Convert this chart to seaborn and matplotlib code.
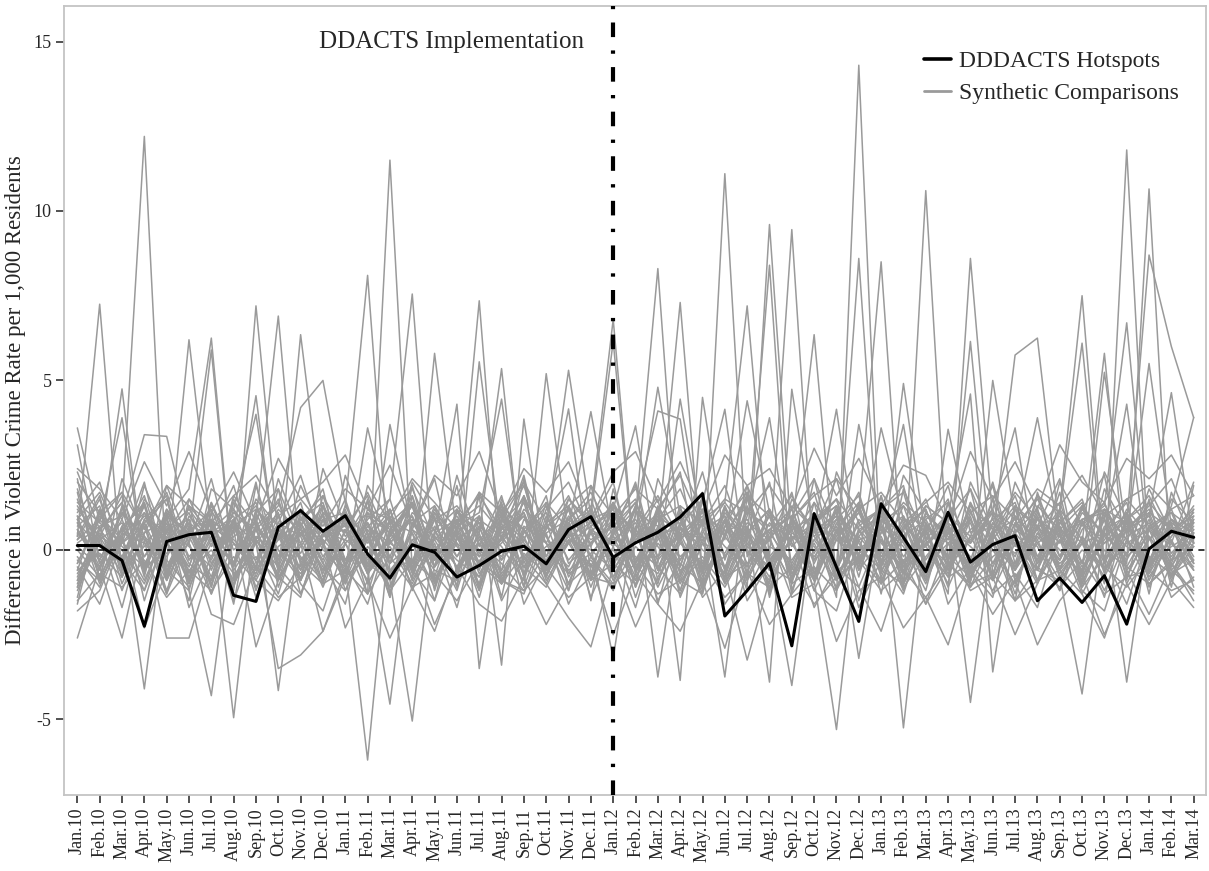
# Synthetic control plot: DDACTS hotspots vs synthetic comparison units
import pandas as pd
import matplotlib
matplotlib.use('Agg')
import matplotlib.pyplot as plt
import seaborn as sns
from matplotlib.lines import Line2D

# Month labels (Jan.10 .. Mar.14)
months = ['Jan.10', 'Feb.10', 'Mar.10', 'Apr.10', 'May.10', 'Jun.10', 'Jul.10', 'Aug.10', 'Sep.10', 'Oct.10', 'Nov.10', 'Dec.10',
          'Jan.11', 'Feb.11', 'Mar.11', 'Apr.11', 'May.11', 'Jun.11', 'Jul.11', 'Aug.11', 'Sep.11', 'Oct.11', 'Nov.11', 'Dec.11',
          'Jan.12', 'Feb.12', 'Mar.12', 'Apr.12', 'May.12', 'Jun.12', 'Jul.12', 'Aug.12', 'Sep.12', 'Oct.12', 'Nov.12', 'Dec.12',
          'Jan.13', 'Feb.13', 'Mar.13', 'Apr.13', 'May.13', 'Jun.13', 'Jul.13', 'Aug.13', 'Sep.13', 'Oct.13', 'Nov.13', 'Dec.13',
          'Jan.14', 'Feb.14', 'Mar.14']
implementation_month = 'Jan.12'

# DDACTS hotspots (black line)
hotspots = [0.13, 0.13, -0.31, -2.25, 0.25, 0.45, 0.52, -1.34, -1.52, 0.67, 1.16, 0.55,
            1.01, -0.12, -0.83, 0.15, -0.07, -0.80, -0.46, -0.04, 0.11, -0.41, 0.60, 0.98,
            -0.22, 0.21, 0.52, 0.97, 1.66, -1.95, -1.20, -0.39, -2.83, 1.07, -0.51, -2.11,
            1.36, 0.37, -0.64, 1.11, -0.36, 0.16, 0.42, -1.50, -0.83, -1.55, -0.76, -2.19,
            0.03, 0.55, 0.37]

# Synthetic comparisons: volatile units (carry the big spikes and dips)
volatile_units = [
    [0.8, -0.5, 1.2, 12.2, -0.9, 0.6, -1.1, 1.4, 0.3, -0.7, 1.0, -0.4,
     0.9, -1.3, 11.5, -0.6, 1.1, -0.2, 0.7, -1.0, 0.5, 1.3, -0.8, 0.2,
     1.1, -0.6, 0.4, -1.2, 0.9, 0.1, -0.5, 1.2, -0.9, 0.6, -1.4, 14.3,
     -0.7, 1.0, -0.3, 0.8, -4.5, 0.5, -0.6, 1.1, -0.2, 0.9, -1.0, 11.8,
     -0.5, 0.7, -0.3],
    [0.4, 7.25, -0.8, 0.9, 1.6, -1.2, -4.3, 0.7, -0.5, 1.8, 0.2, -0.9,
     1.3, 8.1, -0.7, 0.5, -1.5, 1.2, 0.3, -0.6, 2.1, -0.4, 0.8, -1.1,
     0.6, 1.9, -0.9, 0.4, -1.3, 11.1, -0.2, 1.0, -0.8, 0.7, 1.5, -0.6,
     0.3, -1.2, 10.6, -0.5, 1.4, -0.9, 0.8, -0.3, 1.7, -1.1, 0.5, -0.4,
     10.65, -0.8, 0.9],
    [1.5, -0.4, 0.6, -4.1, 1.1, -0.7, 0.9, -1.2, 7.2, 0.4, -0.9, 1.6,
     -0.3, 0.8, -1.4, 1.9, -0.5, 0.3, 7.35, -1.0, 0.6, -0.2, 1.2, -0.8,
     0.5, 1.4, -3.75, 0.7, -0.6, 1.3, -1.1, 9.6, 0.2, -0.9, 0.8, -0.4,
     1.6, -0.7, 0.3, -1.3, 8.6, 0.9, -0.5, 1.2, -0.8, -4.25, 0.6, 1.0,
     -0.9, 0.4, 1.3],
    [-0.6, 1.2, -1.0, 0.5, 1.7, -0.3, 0.8, -4.95, 0.9, 6.9, -0.5, 1.1,
     -1.2, 0.4, 1.5, 7.55, -0.9, 0.6, -0.4, 1.3, -1.1, 0.7, 0.2, -0.8,
     1.4, -0.3, 0.9, -1.2, 0.5, -3.75, 1.6, -0.2, 9.45, -0.7, 0.4, 1.1,
     8.5, -1.0, 0.7, 0.2, -0.6, 1.5, -0.9, 0.3, 1.2, 7.5, -0.4, 0.8,
     -1.1, 0.6, 0.1],
    [2.1, -0.9, 0.7, 1.3, -0.4, 6.2, 0.5, -1.1, 1.0, -4.15, 0.8, -0.3,
     1.2, -0.7, 0.4, 1.6, -1.2, 0.9, -0.5, 0.3, 1.4, -0.8, 0.6, 1.1,
     -0.4, 1.0, 8.3, -0.8, 1.5, -0.2, 0.6, -1.3, 0.9, 1.7, -0.5, 8.6,
     -1.0, 0.7, 1.2, -0.6, 0.4, 1.9, -0.9, 0.5, -0.3, 1.3, -0.7, 0.8,
     8.7, 6.0, 3.9],
    [-1.1, 0.6, 1.4, -0.5, 0.9, 1.8, 6.25, -0.8, 0.3, 1.1, -1.3, 0.5,
     0.7, -0.4, 1.2, -0.9, 5.8, 0.4, -1.0, 1.5, 0.2, -0.6, 1.3, -0.2,
     0.9, -1.4, 0.5, 7.3, -0.7, 1.1, 0.3, 8.4, -1.2, 0.6, 1.0, -0.5,
     1.4, -5.25, 0.8, -0.3, 1.2, -0.9, 0.5, 1.6, -0.6, 0.2, 5.8, -0.8,
     0.6, 1.1, -0.4],
    [0.3, 1.5, -0.6, 0.8, -1.2, 0.5, 1.2, -0.4, 0.9, -0.8, 6.35, 1.0,
     -0.5, -6.2, 0.6, 1.3, -0.3, 0.8, -1.1, 0.4, 1.6, -0.7, 0.2, 1.2,
     6.8, -0.6, 1.1, -0.9, 0.5, 1.4, 7.2, -0.3, -4.0, 0.9, -0.5, 1.3,
     -0.8, 0.6, 1.5, -0.4, 6.15, -0.7, 1.0, 0.3, -1.2, 0.8, 1.3, 6.7,
     -0.3, 0.9, 0.5],
    [1.0, -0.8, 0.5, 1.6, -0.5, 0.2, -1.3, 0.9, 1.4, -0.6, 0.7, -1.0,
     1.1, 0.3, -0.9, -5.05, 0.6, 1.2, -0.4, 0.8, -1.1, 5.2, 0.4, -0.7,
     1.3, 0.5, -1.0, 1.2, 0.2, -0.8, 1.7, -0.3, 0.6, 6.35, -0.9, 0.4,
     1.1, -0.5, 0.9, 1.4, -0.8, 0.3, 5.75, 6.25, 0.5, -0.6, 1.0, -3.9,
     0.7, -0.4, 1.2],
    [-0.4, 0.9, 1.7, -0.7, 1.1, 0.4, 5.9, -0.9, 0.6, 1.3, 4.2, 5.0,
     1.4, -0.6, -4.55, 0.8, -0.2, 1.1, 0.5, 5.35, -0.8, 0.6, 5.3, 1.0,
     6.15, -0.7, 0.9, 1.3, -1.1, 0.4, 1.6, -0.5, 0.8, -0.9, -5.3, 0.7,
     1.2, -0.4, 0.6, 1.5, -0.9, 0.8, 0.2, -1.0, 1.1, 6.1, -0.6, 0.9,
     1.4, -0.8, 0.5],
    [0.6, -0.3, 1.1, 0.4, -0.9, 1.3, -0.6, 0.8, 0.2, -3.5, -3.1, -2.4,
     -0.8, 1.2, 0.5, -0.4, 1.0, -1.1, 5.55, 0.3, -0.7, 1.4, 0.6, -0.5,
     0.9, 1.5, -0.6, 0.3, 1.2, -0.9, 0.7, -3.9, 4.74, 0.5, 1.1, -3.2,
     0.8, 1.3, -0.5, 0.6, -1.0, 5.0, 0.9, -0.4, 1.2, -0.7, 5.24, 0.4,
     5.5, 0.7, -0.6],
    [1.3, 0.2, 4.75, -0.6, 0.8, -1.0, 1.1, 0.5, 4.55, -0.7, 0.9, 1.4,
     -0.5, 0.7, 1.2, -0.9, 0.4, 4.3, -3.5, 1.0, 0.6, -0.8, 1.3, 0.1,
     -3.2, 1.1, 0.7, -0.5, 1.4, 4.15, -0.8, 0.6, 1.2, -0.4, 0.9, 1.6,
     -0.6, 4.91, 0.3, 1.1, -0.7, 0.5, 1.3, -0.9, 0.8, 1.5, -0.3, 0.6,
     1.0, 4.64, 0.2],
    [-0.9, 0.7, 1.0, 3.4, 3.35, 0.6, -0.8, 1.2, 0.3, 1.5, -0.4, 0.9,
     1.1, -0.7, 0.5, 1.3, -0.3, 0.8, 1.6, -3.4, 3.86, -0.6, 0.7, 4.08,
     0.4, -0.9, 1.2, -3.85, 4.5, 0.3, 4.4, 1.1, -0.6, 0.8, 1.3, -0.2,
     3.6, 0.9, -0.8, 1.0, 4.6, -3.6, 0.7, 3.9, 0.4, -0.9, 1.2, 0.8,
     -0.5, 1.3, 3.91],
]

# Synthetic comparisons: moderate units
moderate_units = [
    [3.6, 0.8, 3.9, -0.5, 1.2, 0.4, -0.9, 1.6, 0.7, -0.3, 1.9, 0.5,
     -0.6, 3.6, 0.9, -0.4, 1.3, 0.2, -1.2, 0.8, 1.5, -0.5, 0.6, 1.2,
     -0.8, 0.5, 4.8, 1.0, -0.7, 0.9, 1.7, -0.4, 0.3, 1.4, -0.9, 3.7,
     0.6, -0.5, 1.3, 0.8, -1.1, 0.4, 1.6, -0.2, 0.9, -0.7, 1.1, 0.3,
     -0.4, 1.5, 0.8],
    [3.1, -0.4, 0.6, 1.4, -0.8, 1.0, 0.3, -1.1, 1.2, 0.5, -0.6, 1.3,
     0.2, -0.9, 3.7, 0.6, -0.5, 1.1, 0.8, -0.3, 1.5, 0.4, -1.0, 0.7,
     1.2, 3.66, -0.4, 4.45, 0.6, -0.8, 1.0, 3.9, -0.5, 0.8, 1.3, -0.6,
     0.9, 0.2, -0.9, 3.56, 0.5, 1.2, 3.6, -0.6, 0.8, 1.4, -0.3, 0.7,
     1.1, -0.5, 0.6],
    [-1.6, 1.1, -0.3, 0.8, 1.5, -0.9, 0.6, 1.2, 4.0, -0.5, 0.9, 0.2,
     1.0, -0.6, 0.4, 1.3, -1.0, 0.7, 1.1, 4.45, -0.4, 0.8, 4.16, -0.7,
     0.5, 1.2, 4.1, 3.86, -0.6, 0.9, 0.3, -1.0, 1.3, 0.6, 4.15, -0.4,
     0.8, 3.7, -0.5, 1.0, 0.4, -0.8, 1.2, 0.7, -0.3, 1.1, 0.5, 4.3,
     -0.7, 0.9, 0.2],
    [-2.6, -0.5, -2.6, 0.3, -2.6, -2.6, -0.4, 0.6, -2.86, -0.9, 0.2, -2.4,
     -0.6, 0.4, -1.2, -0.3, -2.2, -0.7, 0.5, -1.5, -0.2, -1.0, -2.0, -2.86,
     -0.5, -2.27, -0.8, 0.3, -1.4, -0.6, -3.25, -0.9, 0.4, -1.7, -0.5, -1.1,
     -2.4, -0.3, -1.6, 0.2, -1.2, -0.8, -2.5, -1.0, 0.3, -1.3, -2.6, -0.6,
     -1.9, -0.4, -1.5],
    [-1.8, -1.2, 0.4, -2.3, -0.6, 0.2, -1.9, -2.2, -0.5, -1.4, -0.8, 0.3,
     -2.3, -0.9, -2.6, -1.1, -2.4, -0.5, -1.6, -2.1, -0.8, -2.2, -1.0, -0.4,
     -2.5, -0.7, -1.6, -2.4, -0.9, -2.9, -0.6, -2.2, -1.3, -0.5, -2.7, -1.2,
     -0.8, -2.3, -1.4, -2.8, -0.6, -1.9, -0.9, -2.8, -1.5, -0.7, -2.5, -1.0,
     -2.2, -0.9, -1.7],
    [2.4, 1.8, 0.9, 2.6, 1.3, 2.9, 1.1, 2.3, 0.8, 2.7, 1.5, 2.0,
     2.8, 1.2, 2.5, 0.7, 2.2, 1.6, 2.9, 1.0, 2.4, 1.7, 2.6, 0.9,
     2.3, 2.9, 1.4, 2.6, 1.1, 2.8, 1.9, 2.4, 1.2, 3.0, 1.6, 2.7,
     1.3, 2.5, 2.2, 0.8, 2.9, 1.5, 2.6, 1.2, 3.1, 2.0, 1.4, 2.7,
     2.1, 2.8, 1.6],
]

# Synthetic comparisons: wider band units
wide_units = [
    [1.7, -0.9, 2.1, 0.4, -1.3, 1.5, 0.8, -1.6, 1.9, -0.2, 1.2, -1.0,
     2.2, 0.5, -1.4, 1.6, -0.3, 1.9, -1.2, 0.9, 2.0, -0.8, 1.3, -1.5,
     1.8, -0.4, 1.1, 2.3, -1.1, 0.7, 1.9, -1.4, 1.0, 2.1, -0.6, 1.4,
     -1.3, 1.8, 0.3, -1.0, 2.0, 0.6, -1.5, 1.7, -0.2, 1.2, 2.2, -0.9,
     1.5, -1.1, 1.9],
    [-1.4, 1.2, -0.6, 1.9, 0.3, -1.5, 1.4, -0.4, 2.0, -1.1, 0.7, 1.8,
     -0.9, 1.5, -1.3, 0.6, 2.1, -0.7, 1.0, -1.4, 1.6, 0.2, -1.2, 1.9,
     -0.5, 1.3, -1.6, 0.8, 1.7, -1.0, 0.4, 2.0, -1.3, 0.9, 1.5, -0.8,
     1.6, -1.2, 0.5, 1.9, -0.6, -1.4, 1.3, 0.7, 2.1, -1.0, 0.6, 1.4,
     -1.3, 1.7, 0.2],
    [2.3, 0.6, 1.4, -0.8, 1.9, 0.2, 2.1, -0.5, 1.1, 1.8, -0.9, 2.4,
     0.7, 1.6, -0.4, 2.0, 0.9, -1.1, 1.7, 0.3, 2.2, -0.6, 1.5, 0.8,
     2.0, -0.7, 1.2, 0.4, 2.3, -0.3, 1.6, 1.0, -0.9, 2.1, 0.5, 1.7,
     -0.5, 2.2, 1.1, 0.3, 1.8, -0.8, 2.0, 0.6, 1.4, -0.4, 2.3, 0.9,
     1.6, 0.2, 2.0],
    [-0.5, -1.6, 0.3, -1.2, 1.0, -1.7, -0.2, 0.8, -1.4, 0.5, -1.0, -1.8,
     0.2, -1.3, 0.9, -0.6, -1.5, 0.4, -1.1, 1.1, -1.6, -0.3, 0.7, -1.4,
     0.1, -1.7, 0.6, -0.9, -1.3, 0.9, -1.5, -0.4, 0.8, -1.2, -1.8, 0.3,
     -1.0, 0.6, -1.6, -0.5, 1.0, -1.3, -0.7, -1.7, 0.5, -1.1, -0.2, -1.6,
     0.4, -1.4, -0.8],
    [1.1, 2.0, -0.3, 1.5, 0.6, -0.9, 1.8, 1.2, -0.6, 2.1, 0.4, 1.3,
     -1.0, 1.9, 0.8, 1.4, -0.5, 2.2, 0.1, 1.6, -0.8, 1.2, 2.0, 0.5,
     1.4, -1.1, 2.1, 0.7, 1.5, -0.6, 1.9, 0.3, 1.7, -0.9, 2.3, 0.8,
     1.2, 1.9, -0.7, 1.4, 0.2, 2.0, -0.4, 1.6, 1.1, -0.8, 1.8, 0.6,
     1.3, 2.1, 0.4],
    [0.0, -0.8, 1.3, -1.5, 0.6, 0.9, -1.1, 1.5, 0.2, -1.3, 0.8, -0.4,
     -1.6, 1.1, -0.2, 1.4, -1.0, 0.5, -1.4, 0.9, 0.3, 1.6, -1.2, 0.6,
     -0.9, 0.4, 1.5, -1.4, 0.2, -0.7, 1.3, -1.2, 0.9, -0.1, 1.2, -1.5,
     0.7, 0.1, -1.2, 1.4, -0.9, 0.6, -1.3, 1.0, -0.5, 0.3, -1.4, 1.1,
     -0.6, 0.8, -1.1],
    [0.9, 1.7, 0.2, 2.0, -0.7, 1.3, 0.5, 1.9, -0.4, 0.8, 2.2, 0.1,
     1.5, -0.5, 1.1, 1.8, 0.3, -0.8, 1.6, 0.6, 1.9, -0.2, 0.9, 1.7,
     0.4, 2.0, -0.6, 1.3, 0.8, 1.9, 0.0, -0.9, 1.5, 0.6, 2.1, -0.3,
     1.2, 1.7, -0.5, 0.9, 1.8, 0.3, 1.2, -0.6, 2.0, 0.7, 1.4, -0.2,
     1.8, 0.5, 1.2],
    [-1.1, 0.4, -1.7, 0.8, -0.6, -1.2, 1.1, -1.5, 0.3, -0.8, -1.4, 0.9,
     -0.4, -1.6, 0.6, -1.1, 0.2, -1.7, 0.7, -0.9, -1.3, 0.5, -1.6, -0.2,
     -1.2, 0.7, -1.5, -0.3, 0.9, -1.6, -0.6, 0.4, -1.4, -1.0, 0.6, -1.7,
     -0.3, -1.3, 0.8, -1.6, -0.5, 0.2, -1.5, -0.9, 0.7, -1.2, -1.8, 0.3,
     -1.0, -0.4, -1.3],
]

# Synthetic comparisons: calm units (the dense band around zero)
calm_units = [
    [0.5, -0.3, 0.9, -0.6, 0.2, 1.1, -0.4, 0.7, -0.9, 0.4, 1.2, -0.2,
     0.8, -0.7, 0.3, 1.0, -0.5, 0.6, -1.1, 0.9, 0.1, -0.4, 0.7, 1.3,
     -0.6, 0.4, 1.1, -0.3, 0.8, -0.9, 0.5, 1.2, -0.7, 0.3, 0.9, -0.5,
     1.0, -0.2, 0.6, -0.8, 1.4, 0.2, -0.6, 0.9, 0.4, -1.0, 0.7, 0.1,
     -0.4, 0.8, 0.3],
    [-0.8, 0.6, -0.2, 1.3, -0.9, 0.4, 0.8, -0.5, 1.1, -0.3, 0.5, 0.9,
     -1.0, 0.3, 1.2, -0.6, 0.7, -0.2, 1.0, -0.8, 0.6, 1.4, -0.4, 0.2,
     0.9, -1.1, 0.4, 0.7, -0.5, 1.3, -0.1, 0.6, 1.0, -0.7, 0.3, 1.1,
     -0.4, 0.8, -0.9, 0.5, 0.2, 1.2, -0.6, 0.4, -0.3, 0.9, 1.1, -0.8,
     0.6, -0.2, 0.9],
    [1.2, 0.4, -0.7, 0.8, 1.5, -0.3, 0.6, -1.0, 0.2, 1.0, -0.6, 0.5,
     0.3, 1.4, -0.8, 0.6, 0.1, -1.2, 0.9, 0.4, -0.5, 0.7, 1.2, -0.9,
     0.5, 0.9, -0.2, 1.1, -0.8, 0.4, 1.5, -0.6, 0.3, 0.8, -1.2, 0.6,
     -0.1, 1.3, 0.5, -0.7, 0.9, -0.4, 1.0, 0.2, -0.9, 0.6, 1.4, -0.5,
     0.7, 0.2, -0.6],
    [-0.4, 1.0, 0.3, -0.9, 0.6, -0.5, 1.3, 0.2, -0.7, 0.8, 0.4, -1.1,
     0.6, -0.3, 0.9, 0.5, -0.8, 1.2, -0.2, 0.3, 1.0, -0.9, 0.2, 0.7,
     -0.5, 1.2, 0.1, -0.8, 0.6, 1.0, -0.4, 0.3, -1.0, 1.4, 0.5, -0.3,
     0.7, -0.9, 1.1, 0.4, -0.6, 0.8, -0.2, 1.3, 0.6, -0.5, 0.2, 0.9,
     -0.7, 0.4, 1.1],
    [0.9, -1.0, 0.5, 0.2, -0.6, 0.7, -0.3, 1.1, 0.6, -0.8, 0.1, 1.0,
     -0.4, 0.5, -1.1, 0.8, 1.3, -0.6, 0.4, -0.9, 0.7, 0.2, -0.5, 0.9,
     1.2, -0.4, 0.6, -1.0, 0.3, 0.8, -0.7, 1.1, 0.4, -0.2, 0.7, -1.1,
     0.5, 1.0, -0.5, 0.2, 0.8, -0.9, 0.4, -0.6, 1.2, 0.3, -0.8, 0.6,
     1.0, -0.6, 0.2],
    [0.2, 0.7, -1.2, 0.5, 0.9, -0.4, -0.9, 0.6, 1.3, 0.0, -0.7, 0.4,
     1.1, -0.5, 0.3, -0.8, 0.9, 0.4, -0.6, 1.2, -0.3, 0.8, -1.0, 0.5,
     0.3, 0.8, -0.6, 1.0, -1.2, 0.5, 0.9, -0.3, 0.6, -0.8, 1.2, 0.2,
     -0.9, 0.4, 0.9, -0.3, 0.6, 1.1, -0.8, 0.2, 0.7, -0.4, 0.9, -1.0,
     0.3, 1.2, -0.4],
    [1.8, -0.2, 0.4, 1.1, -0.5, 0.8, 0.3, -0.9, 0.7, 1.4, -0.3, 0.6,
     -0.7, 1.0, 0.5, -0.4, 1.2, 0.1, -0.8, 0.6, 1.1, -0.5, 0.9, 0.3,
     0.7, -0.6, 1.3, 0.2, -0.4, 0.9, -0.9, 0.5, 1.0, -0.3, 0.4, 1.2,
     -0.5, 0.7, 0.1, 1.1, -0.7, 0.5, 0.9, -0.2, 0.6, 1.3, -0.6, 0.4,
     0.8, -0.3, 1.0],
    [-1.2, 0.3, 0.8, -0.4, 0.5, -1.0, 0.7, 0.2, -0.5, 1.0, -0.9, 0.4,
     0.6, -1.0, 0.2, 0.9, -0.3, 0.5, 1.0, -0.7, 0.3, -0.6, 0.8, -0.2,
     -1.0, 0.6, -0.3, 0.5, 1.1, -0.5, 0.2, -0.8, 0.7, 0.4, -0.6, 0.9,
     0.3, -0.7, 0.6, -1.1, 0.4, 0.7, -0.5, 1.0, -0.8, 0.2, 0.5, -0.3,
     0.9, -0.9, 0.4],
    [0.7, 1.3, -0.5, 0.1, 1.0, 0.5, -0.2, 0.9, -0.6, 0.3, 1.4, -0.8,
     0.2, 0.8, -0.4, 1.1, 0.6, -0.9, 0.3, 1.0, -0.2, 0.5, 0.9, 1.5,
     -0.3, 0.2, 0.9, -0.7, 1.2, 0.4, -0.5, 0.8, 0.3, 1.1, -0.8, 0.5,
     1.3, -0.4, 0.2, 0.7, -0.9, 1.0, 0.5, -0.3, 0.8, 0.2, 1.2, -0.6,
     0.3, 0.9, -0.2],
    [-0.3, -0.9, 0.2, 0.7, -1.3, 0.3, 0.9, -0.6, 0.4, -0.2, 0.8, -0.7,
     1.0, -0.4, -0.9, 0.3, 0.6, -0.5, 0.2, -1.0, 0.9, 0.4, -0.6, -0.1,
     0.6, -0.8, 0.3, 0.9, -0.6, -0.2, 0.7, -1.1, 0.5, 0.1, -0.9, 0.6,
     -0.6, 0.3, -1.0, 0.7, 0.1, -0.5, 0.8, -0.9, 0.3, -0.6, 0.4, 0.9,
     -0.8, 0.2, -0.5],
    [1.0, 0.4, 1.6, -0.2, 0.6, 1.2, 0.3, -0.4, 1.5, 0.7, -0.1, 1.1,
     0.5, 1.7, 0.2, -0.3, 0.9, 1.3, 0.4, -0.2, 1.2, 0.6, 1.6, 0.1,
     1.4, 0.3, 0.9, 1.8, 0.2, -0.1, 1.1, 0.7, 1.6, 0.4, 1.0, 0.3,
     0.5, 1.4, 0.8, -0.2, 1.3, 0.6, 1.7, 0.9, 0.2, 1.2, 0.4, 1.5,
     0.7, 1.1, 0.6],
    [-0.6, -0.1, -0.8, 0.4, -0.3, -1.1, 0.2, -0.7, -0.2, -0.9, 0.5, -0.5,
     -1.2, 0.1, -0.6, -0.3, -0.9, 0.2, -0.4, -1.0, -0.1, -0.7, 0.3, -0.9,
     -0.4, -1.0, 0.2, -0.6, -0.2, -1.1, 0.1, -0.5, -0.9, 0.3, -0.6, -0.2,
     -1.0, -0.3, 0.1, -0.8, -0.4, -1.2, 0.2, -0.6, -0.9, 0.0, -0.5, -1.1,
     -0.2, -0.7, -0.3],
    [0.3, 0.9, 0.1, -0.5, 1.2, -0.2, 0.5, 1.0, -0.8, 0.6, 0.2, 1.3,
     -0.3, 0.4, 1.0, -0.7, 0.5, 0.9, -0.4, 0.2, 1.1, -0.6, 0.4, 0.8,
     0.1, 1.2, -0.5, 0.6, 0.3, 1.0, -0.9, 0.4, 0.8, -0.3, 1.3, 0.0,
     0.6, -0.7, 1.1, 0.3, 0.9, -0.4, 0.5, 1.2, -0.6, 0.8, 0.2, 0.6,
     1.2, -0.1, 0.7],
    [-1.0, 0.5, -0.4, 1.1, 0.2, -0.8, 0.4, 0.9, -1.1, 0.1, 0.6, -0.6,
     0.3, -0.2, 0.8, -1.2, 0.4, -0.5, 0.7, 0.1, -0.9, 1.0, -0.3, 0.5,
     -0.8, 0.3, 0.6, -0.4, -1.0, 0.7, 0.2, -0.6, 0.9, -1.2, 0.3, -0.3,
     0.8, -1.0, 0.2, 0.6, -0.5, 0.3, -1.1, 0.7, 0.0, -0.7, 0.9, -0.2,
     0.4, -0.6, -1.2],
    [0.6, -0.6, 1.1, 0.3, -0.2, 0.9, -1.0, 0.4, 0.8, -0.4, 1.2, 0.0,
     -0.5, 0.7, 0.2, 1.0, -0.9, 0.3, 0.8, -0.3, 0.5, 1.1, -0.7, 0.6,
     0.2, -0.4, 1.0, 0.5, -0.9, 1.2, 0.4, -0.2, 0.6, 1.0, -0.6, 0.8,
     -0.2, 0.9, 0.4, -0.6, 1.1, 0.0, -0.4, 0.7, 1.0, -0.8, 0.3, 1.1,
     0.0, 0.5, 0.8],
    [1.4, 0.8, 0.2, 1.0, 0.5, 1.5, 0.1, 0.7, 1.2, 0.3, 0.9, 1.6,
     0.4, 1.1, 0.6, 1.4, 0.0, 0.8, 1.3, 0.5, 1.0, 0.2, 1.5, 0.7,
     1.1, 0.6, 1.6, 0.3, 0.9, 1.4, 0.5, 1.2, 0.1, 0.8, 1.5, 0.6,
     1.0, 0.4, 1.3, 0.8, 0.2, 1.1, 0.7, 1.5, 0.4, 0.9, 1.2, 0.3,
     1.4, 0.6, 1.0],
    [-1.5, -0.7, -1.1, -0.3, -1.4, -0.6, -1.2, -0.2, -0.9, -1.5, -0.4, -1.0,
     -0.6, -1.3, -0.2, -1.1, -0.7, -1.5, -0.3, -0.9, -1.2, -0.5, -1.4, -0.8,
     -1.0, -0.4, -1.3, -0.9, -0.3, -1.4, -0.7, -1.1, -0.5, -1.6, -0.8, -0.3,
     -1.2, -0.6, -1.4, -0.4, -1.0, -0.7, -1.5, -0.5, -1.1, -0.3, -1.3, -0.8,
     -0.6, -1.2, -0.9],
    [0.1, -0.5, 0.6, -0.2, 0.9, -0.8, 0.3, -0.4, 0.7, 0.0, -0.9, 0.5,
     -0.3, 0.8, -0.6, 0.2, -0.1, 0.9, -0.7, 0.4, -0.5, 0.1, 0.6, -0.8,
     0.4, -0.2, -0.7, 0.8, 0.0, -0.5, 0.6, -0.3, 0.2, -0.9, 0.5, -0.1,
     0.3, -0.6, 0.7, -0.2, -0.8, 0.4, -0.1, 0.6, -0.7, 0.2, -0.3, 0.8,
     -0.4, 0.1, 0.5],
    [2.0, 1.1, 1.7, 0.6, 1.9, 1.3, 0.8, 1.6, 2.2, 1.0, 1.5, 0.7,
     1.8, 1.2, 0.9, 2.1, 1.4, 0.6, 1.7, 1.1, 2.0, 0.8, 1.3, 1.9,
     1.0, 1.8, 1.2, 2.2, 0.7, 1.5, 1.1, 1.9, 0.9, 1.6, 2.1, 1.2,
     1.7, 0.8, 1.4, 2.0, 1.1, 1.6, 0.9, 1.8, 1.3, 2.2, 1.0, 1.5,
     1.9, 1.2, 1.6],
    [-0.9, 0.2, -0.3, -1.2, 0.4, -0.6, 0.0, -1.0, 0.3, -0.5, -1.3, 0.1,
     -0.8, -0.2, -1.1, 0.3, -0.6, -0.9, 0.2, -0.4, -1.2, 0.0, -0.7, -0.3,
     -1.1, 0.1, -0.5, -1.3, 0.2, -0.8, -0.4, 0.3, -1.0, -0.5, -1.2, 0.1,
     -0.6, -1.0, 0.2, -0.4, -1.1, -0.2, 0.3, -0.9, -0.6, -1.3, 0.0, -0.5,
     -1.0, -0.3, 0.1],
    [0.4, 1.6, -0.8, 0.9, 0.2, -0.5, 1.4, 0.0, 0.6, -0.9, 1.1, 0.3,
     -0.4, 0.9, 1.5, -0.6, 0.3, 1.0, -0.1, 1.4, -0.8, 0.7, 0.2, 1.1,
     -0.3, 1.3, 0.5, -0.5, 1.6, -0.2, 0.8, 0.3, 1.2, -0.7, 0.6, 1.4,
     0.2, -0.5, 1.0, 0.5, -0.3, 1.5, 0.1, 0.7, -0.6, 1.3, 0.4, -0.1,
     1.1, 0.6, -0.4],
    [-0.2, -1.1, 0.7, -0.5, -0.1, 0.8, -1.3, 0.2, -0.6, 0.5, -0.2, -0.9,
     0.6, -0.7, 0.1, -1.0, 0.4, -0.3, -0.8, 0.7, -0.5, -1.1, 0.3, 0.0,
     -0.6, 0.5, -1.1, 0.2, -0.4, 0.6, -1.2, 0.1, -0.3, 0.7, -0.9, -0.2,
     0.4, -1.1, -0.2, 0.6, -0.7, 0.0, -1.0, 0.5, -0.4, 0.2, -1.2, 0.3,
     -0.5, 0.3, -0.9],
    [0.8, 0.1, -0.4, 1.4, -0.7, 0.6, 0.9, 0.3, -0.3, 1.2, 0.5, -0.6,
     1.3, 0.2, 0.7, -0.5, 1.1, 0.4, -0.2, 1.3, 0.6, -0.4, 1.0, 0.2,
     0.7, 1.4, -0.2, 0.4, 1.0, -0.6, 1.2, 0.5, -0.4, 0.9, 0.3, 1.3,
     -0.3, 0.6, 1.2, -0.5, 0.3, 0.9, 1.4, -0.4, 0.5, 0.8, -0.2, 1.2,
     0.4, -0.5, 0.8],
    [-0.7, 0.4, 0.0, -1.0, 0.7, 0.1, -0.5, 0.9, -1.2, 0.6, -0.3, 0.2,
     -0.9, 0.6, -0.4, 0.2, -1.1, 0.7, 0.0, -0.6, 0.4, -1.0, 0.5, -0.5,
     0.0, -0.9, 0.7, -0.2, 0.4, -1.0, 0.1, 0.6, -0.7, 0.2, -1.1, 0.4,
     -0.4, 0.3, -0.8, 0.5, -0.2, -0.9, 0.6, 0.1, -1.2, 0.4, -0.6, 0.2,
     0.6, -0.8, 0.1],
]

# Build long-form table for seaborn
rows = []
unit_id = 0
for group in (calm_units, wide_units, moderate_units, volatile_units):
    for series in group:
        assert len(series) == len(months), (unit_id, len(series))
        for i, v in enumerate(series):
            rows.append({'t': i, 'value': v, 'unit': unit_id})
        unit_id += 1
synth_df = pd.DataFrame(rows)
hot_df = pd.DataFrame({'t': range(len(months)), 'value': hotspots})

# Plot
sns.set_style('white')
plt.rcParams['font.family'] = ['Liberation Serif', 'DejaVu Serif']

fig = plt.figure(figsize=(12.09, 8.71), dpi=100)
ax = fig.add_axes([0.0529, 0.0873, 0.9446, 0.9059])

grey = '#9a9a9a'
sns.lineplot(data=synth_df, x='t', y='value', units='unit', estimator=None,
             color=grey, linewidth=1.1, ax=ax, legend=False)
sns.lineplot(data=hot_df, x='t', y='value', color='black', linewidth=2.2,
             ax=ax, legend=False, zorder=5)

# zero reference and implementation marker
ax.axhline(0, color='black', linewidth=1.1, dashes=(4, 3.5), zorder=6)
impl_x = months.index(implementation_month)
ax.axvline(impl_x, color='black', linewidth=3.0, dashes=(3.5, 3.2, 0.8, 3.2), zorder=7)
ax.text(impl_x - 1.3, 15, 'DDACTS Implementation', ha='right', va='center', fontsize=18)

# axes and ticks
ax.set_xlim(-0.6, len(months) - 0.45)
ax.set_ylim(-7.23, 16.05)
ax.set_xticks(range(len(months)))
ax.set_xticklabels(months, rotation=90, fontsize=13)
ax.set_yticks([-5, 0, 5, 10, 15])
ax.set_yticklabels(['-5', '0', '5', '10', '15'], fontsize=13)
ax.set_xlabel('')
ax.set_ylabel('Difference in Violent Crime Rate per 1,000 Residents', fontsize=16.5, labelpad=5)
ax.tick_params(axis='both', which='both', bottom=True, left=True, direction='out',
               length=6, width=1.2, color='#333333', pad=3)
for sp in ax.spines.values():
    sp.set_color('#c4c4c4')
    sp.set_linewidth(1.3)

handles = [Line2D([0], [0], color='black', linewidth=2.6),
           Line2D([0], [0], color=grey, linewidth=2.0)]
ax.legend(handles, ['DDDACTS Hotspots', 'Synthetic Comparisons'], loc='upper right',
          bbox_to_anchor=(0.995, 0.97), frameon=False, fontsize=17,
          handlelength=1.15, handletextpad=0.35, labelspacing=0.42)

fig.savefig('out.png', dpi=100)
